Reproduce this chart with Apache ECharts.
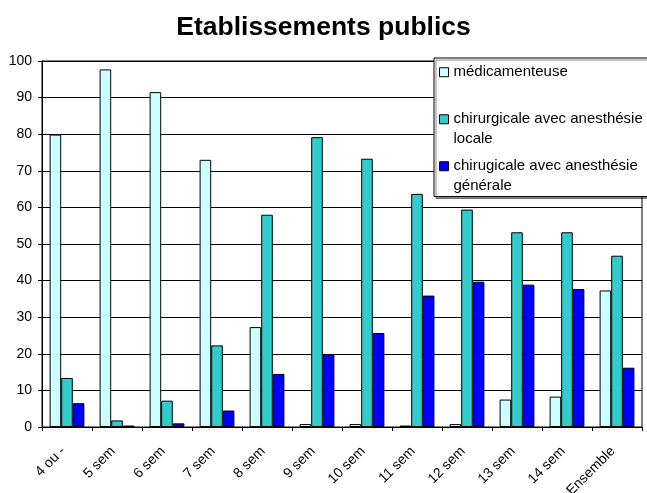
<!DOCTYPE html>
<html>
<head>
<meta charset="utf-8">
<script src="https://cdn.jsdelivr.net/npm/echarts@6/dist/echarts.min.js"></script>
<style>
html,body{margin:0;padding:0;background:#fff;}
#chart{width:647px;height:493px;}
</style>
</head>
<body>
<div id="chart"></div>
<script>
const categories = ['4 ou -','5 sem','6 sem','7 sem','8 sem','9 sem','10 sem','11 sem','12 sem','13 sem','14 sem','Ensemble'];
const medicamenteuse = [79.9, 97.7, 91.5, 73.0, 27.3, 0.8, 0.8, 0.4, 0.8, 7.5, 8.3, 37.3];
const chirLocale = [13.4, 1.8, 7.2, 22.3, 58.0, 79.2, 73.3, 63.7, 59.4, 53.2, 53.2, 46.8];
const chirGenerale = [6.5, 0.4, 1.0, 4.5, 14.5, 19.9, 25.7, 35.9, 39.7, 38.9, 37.7, 16.2];
const yTicks = [0,10,20,30,40,50,60,70,80,90,100];
const seriesNames = ['médicamenteuse','chirurgicale avec anesthésie locale','chirugicale avec anesthésie générale'];
const legendLabels = {
  'médicamenteuse': 'médicamenteuse\n ',
  'chirurgicale avec anesthésie locale': 'chirurgicale avec anesthésie\nlocale',
  'chirugicale avec anesthésie générale': 'chirugicale avec anesthésie\ngénérale'
};
const FONT = '"Liberation Sans", Arial, sans-serif';
const chart = echarts.init(document.getElementById('chart'), null, {renderer:'canvas'});
const barStyle = (c) => ({color: c, borderColor: '#000', borderWidth: 1});
const iconPath = 'path://M0,0h9v9h-9zM0,28.5';
chart.setOption({
  animation: false,
  backgroundColor: '#fff',
  title: {
    text: 'Etablissements publics',
    left: 'center',
    top: 9,
    textStyle: {fontFamily: FONT, fontSize: 26.5, fontWeight: 'bold', color: '#000'}
  },
  legend: {
    orient: 'vertical',
    left: 434,
    top: 58,
    padding: [4.5, 6, 1, 5],
    itemWidth: 9,
    itemHeight: 28.5,
    itemGap: 8,
    icon: iconPath,
    backgroundColor: '#fff',
    borderColor: '#000',
    borderWidth: 1,
    shadowColor: 'rgba(0,0,0,0.45)',
    shadowOffsetX: 2,
    shadowOffsetY: 2,
    shadowBlur: 0,
    itemStyle: {borderColor: '#000', borderWidth: 1},
    data: seriesNames,
    formatter: (n) => legendLabels[n],
    textStyle: {fontFamily: FONT, fontSize: 15, color: '#000', lineHeight: 19.5}
  },
  grid: {left: 42, right: 5, top: 61, bottom: 66, show: true, borderColor: '#000', borderWidth: 1, containLabel: false, outerBoundsMode: 'none'},
  xAxis: {
    type: 'category',
    data: categories,
    axisLine: {lineStyle: {color: '#000', width: 1}},
    axisTick: {show: true, length: 4, lineStyle: {color: '#000'}, alignWithLabel: false},
    axisLabel: {rotate: 45, margin: 18, padding: [0, 5.7, 0, 0], interval: 0, fontFamily: FONT, fontSize: 14, color: '#000'},
    splitLine: {show: false}
  },
  yAxis: {
    type: 'value',
    min: 0, max: 100, interval: 10,
    axisLine: {show: true, lineStyle: {color: '#000', width: 1}},
    axisTick: {show: true, length: 4, lineStyle: {color: '#000'}},
    axisLabel: {margin: 10, fontFamily: FONT, fontSize: 14, color: '#000',
      formatter: (v) => yTicks.includes(v) ? String(v) : ''},
    splitLine: {show: true, lineStyle: {color: '#000', width: 1}}
  },
  series: [
    {name: seriesNames[0], type: 'bar', data: medicamenteuse, barWidth: 11.6, barGap: '0%', itemStyle: barStyle('#CCFFFF')},
    {name: seriesNames[1], type: 'bar', data: chirLocale, barWidth: 11.6, barGap: '0%', itemStyle: barStyle('#33CCCC')},
    {name: seriesNames[2], type: 'bar', data: chirGenerale, barWidth: 11.6, barGap: '0%', itemStyle: barStyle('#0000FF')}
  ]
});
</script>
</body>
</html>
